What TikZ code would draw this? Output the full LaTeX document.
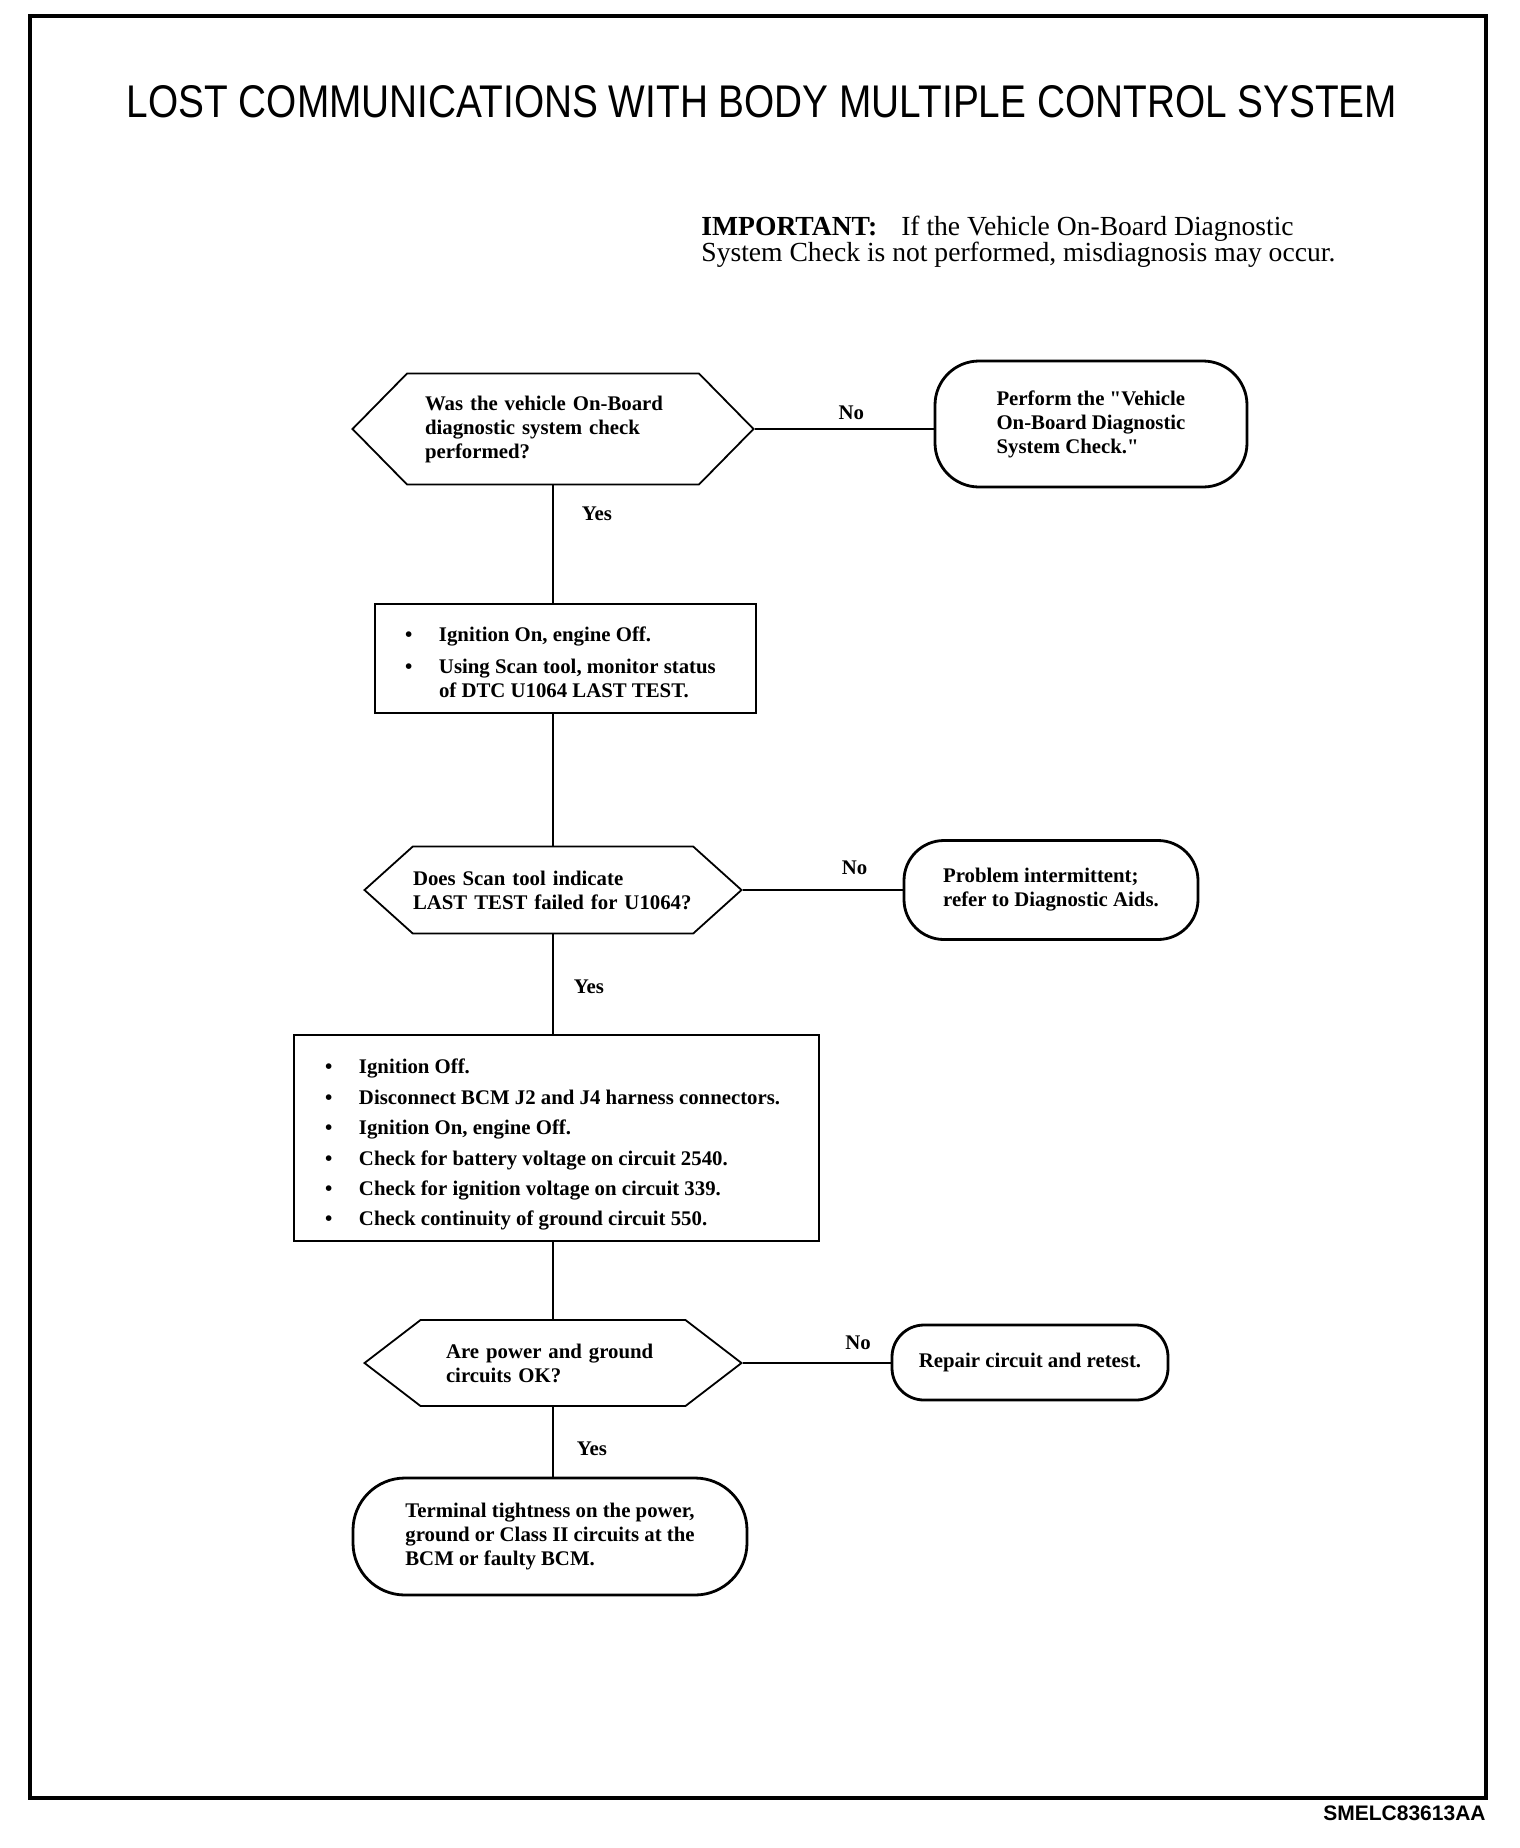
\documentclass[tikz,border=0pt]{standalone}
\usepackage{fontspec}
\setmainfont{Liberation Serif}
\setsansfont{Liberation Sans}
\usepackage{graphicx}
\usetikzlibrary{shapes.symbols}
\newcommand{\flowfont}{\bfseries\fontsize{10.4}{12}\selectfont}
\newcommand{\dropdown}[2]{\raisebox{-#1}[\height][\depth]{#2}}

\begin{document}
\begin{tikzpicture}[x=0.5pt,y=-0.5pt,
    decision/.style={draw,line width=0.9pt,shape=signal,signal to=west and east,inner sep=0pt,align=left,font=\flowfont},
    stepbox/.style={draw,line width=0.9pt,inner sep=0pt,font=\flowfont},
    terminal/.style={draw,line width=1.4pt,inner sep=0pt,align=left,font=\flowfont},
    answer/.style={inner sep=1pt,font=\flowfont},
    flow/.style={line width=0.9pt}]
    \useasboundingbox (0,0) rectangle (1520,1848);
    % frame and headings
    \draw[line width=1.8pt] (30,16) rectangle (1486,1798);
    \node (title) at (762,102) {\resizebox{635pt}{16pt}{\sffamily LOST COMMUNICATIONS WITH BODY MULTIPLE CONTROL SYSTEM}};
    \node[anchor=north west,inner sep=0pt,align=left,font=\fontsize{13.8}{12.8}\selectfont] (note) at (701,216)
      {\textbf{IMPORTANT:}\hspace{12pt}If the Vehicle On-Board Diagnostic\\System Check is not performed, misdiagnosis may occur.};
    % steps
    \node[decision,signal pointer angle=91,minimum width=200.5pt,minimum height=55.5pt,text width=128pt] (d1) at (553,429)
      {Was the vehicle On-Board\\diagnostic system check\\performed?};
    \node[terminal,rounded corners=22pt,minimum width=156pt,minimum height=63pt] (t1) at (1091,424)
      {Perform the \textquotedbl Vehicle\\On-Board Diagnostic\\System Check.\textquotedbl};
    \node[stepbox,minimum width=190.5pt,minimum height=54.5pt] (b1) at (565.5,658.5)
      {\dropdown{3pt}{\begin{tabular}{@{}p{17pt}@{}p{143.5pt}@{}}
        \textbullet & Ignition On, engine Off.\\[4pt]
        \textbullet & Using Scan tool, monitor status\newline of DTC U1064 LAST TEST.
      \end{tabular}}};
    \node[decision,signal pointer angle=84,minimum width=188.5pt,minimum height=43.5pt,text width=140pt] (d2) at (553,890)
      {Does Scan tool indicate\\LAST TEST failed for U1064?};
    \node[terminal,rounded corners=20pt,minimum width=147pt,minimum height=49.5pt] (t2) at (1051,890)
      {Problem intermittent;\\refer to Diagnostic Aids.};
    \node[stepbox,minimum width=262.5pt,minimum height=103pt] (b2) at (556.5,1138)
      {\dropdown{3.5pt}{\begin{tabular}{@{}p{17pt}@{}p{214.5pt}@{}}
        \textbullet & Ignition Off.\\[3.2pt]
        \textbullet & Disconnect BCM J2 and J4 harness connectors.\\[3.2pt]
        \textbullet & Ignition On, engine Off.\\[3.2pt]
        \textbullet & Check for battery voltage on circuit 2540.\\[3.2pt]
        \textbullet & Check for ignition voltage on circuit 339.\\[3.2pt]
        \textbullet & Check continuity of ground circuit 550.
      \end{tabular}}};
    \node[decision,signal pointer angle=75,minimum width=188.5pt,minimum height=43pt,text width=107pt] (d3) at (553,1363)
      {Are power and ground\\circuits OK?};
    \node[terminal,rounded corners=16pt,minimum width=138pt,minimum height=37.5pt] (t3) at (1030,1362.5)
      {Repair circuit and retest.};
    \node[terminal,rounded corners=26pt,minimum width=197pt,minimum height=58.5pt] (t4) at (550,1536.5)
      {Terminal tightness on the power,\\ground or Class II circuits at the\\BCM or faulty BCM.};
    % connectors
    \draw[flow] (d1.east) -- node[answer,pos=0.54,above=3pt] {No} (d1.east -| t1.west);
    \draw[flow] (d1.south) -- node[answer,pos=0.24,right=13pt] {Yes} (d1.south |- b1.north);
    \draw[flow] (b1.south -| d1.south) -- (d2.north);
    \draw[flow] (d2.east) -- node[answer,pos=0.70,above=6pt] {No} (d2.east -| t2.west);
    \draw[flow] (d2.south) -- node[answer,pos=0.53,right=9pt] {Yes} (d2.south |- b2.north);
    \draw[flow] (b2.south -| d2.south) -- (d3.north);
    \draw[flow] (d3.east) -- node[answer,pos=0.78,above=5pt] {No} (d3.east -| t3.west);
    \draw[flow] (d3.south) -- node[answer,pos=0.6,right=10.5pt] {Yes} (d3.south |- t4.north);
    \node[anchor=base east,inner sep=0pt,font=\sffamily\bfseries\fontsize{10.5}{12}\selectfont] (code) at (1486,1820) {SMELC83613AA};
\end{tikzpicture}
\end{document}
